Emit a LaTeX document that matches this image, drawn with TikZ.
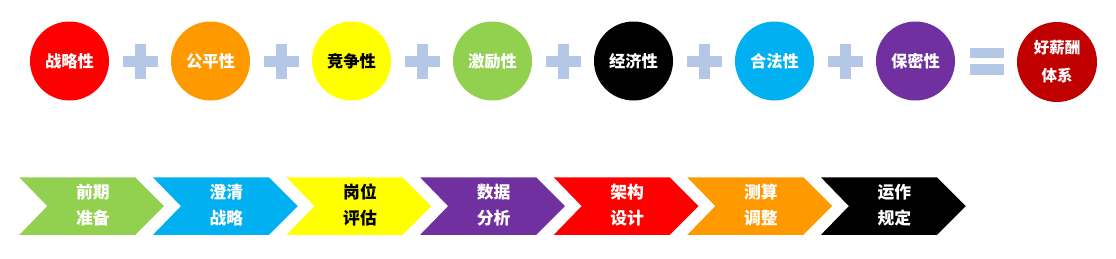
\documentclass[tikz,border=0pt]{standalone}
\usepackage{fontspec}
\newfontfamily\cjk{Noto Sans CJK SC}
\definecolor{cred}{HTML}{FF0000}
\definecolor{corange}{HTML}{FF9900}
\definecolor{cyellow}{HTML}{FFFF00}
\definecolor{cgreen}{HTML}{92D050}
\definecolor{cblack}{HTML}{000000}
\definecolor{ccyan}{HTML}{00B0F0}
\definecolor{cpurple}{HTML}{7030A0}
\definecolor{cdark}{HTML}{C00000}
\definecolor{cop}{HTML}{B4C7E7}
\tikzset{
  bubble/.style={circle, minimum size=79pt, inner sep=0pt, font=\cjk\bfseries\fontsize{16.3}{24}\selectfont, align=center},
  chevtext/.style={inner sep=0pt, font=\cjk\bfseries\fontsize{16.8}{26.5}\selectfont, align=center},
  opbar/.style={fill=cop}
}
\begin{document}
\begin{tikzpicture}[x=1pt,y=-1pt]
\useasboundingbox (0,0) rectangle (1116,258);
% circles
\foreach \i/\c/\tc/\t in {0/cred/white/战略性,1/corange/white/公平性,2/cyellow/black/竞争性,3/cgreen/white/激励性,4/cblack/white/经济性,5/ccyan/white/合法性,6/cpurple/white/保密性}{
  \node[bubble, fill=\c, text=\tc] (c\i) at (69.5+141*\i,61) {\t};
}
\node[bubble, fill=cdark, text=white, minimum size=80pt, font=\cjk\bfseries\fontsize{15.5}{28}\selectfont] (c7) at (1057,62) {好薪酬\\体系};
% plus signs
\foreach \i in {0,...,5}{
  \fill[opbar] (140+141*\i-17.5,55.5) rectangle (140+141*\i+17.5,66.5);
  \fill[opbar] (140+141*\i-5.5,43.5) rectangle (140+141*\i+5.5,78.5);
}
% equals
\fill[opbar] (970,47.5) rectangle (1004,58.3);
\fill[opbar] (970,64) rectangle (1004,75);
% chevrons
\foreach \i/\c/\tc/\ta/\tb in {0/cgreen/white/前期/准备,1/ccyan/white/澄清/战略,2/cyellow/black/岗位/评估,3/cpurple/white/数据/分析,4/cred/white/架构/设计,5/corange/white/测算/调整,6/cblack/white/运作/规定}{
  \pgfmathsetmacro\xx{19.3+133.6*\i}
  \fill[\c] (\xx,177.3) -- ++(116,0) -- ++(28.8,28.8) -- ++(-28.8,28.8) -- ++(-116,0) -- ++(28,-28.8) -- cycle;
  \node[chevtext, text=\tc] (ch\i) at (\xx+73.5,205) {\ta\\\tb};
}
\end{tikzpicture}
\end{document}
